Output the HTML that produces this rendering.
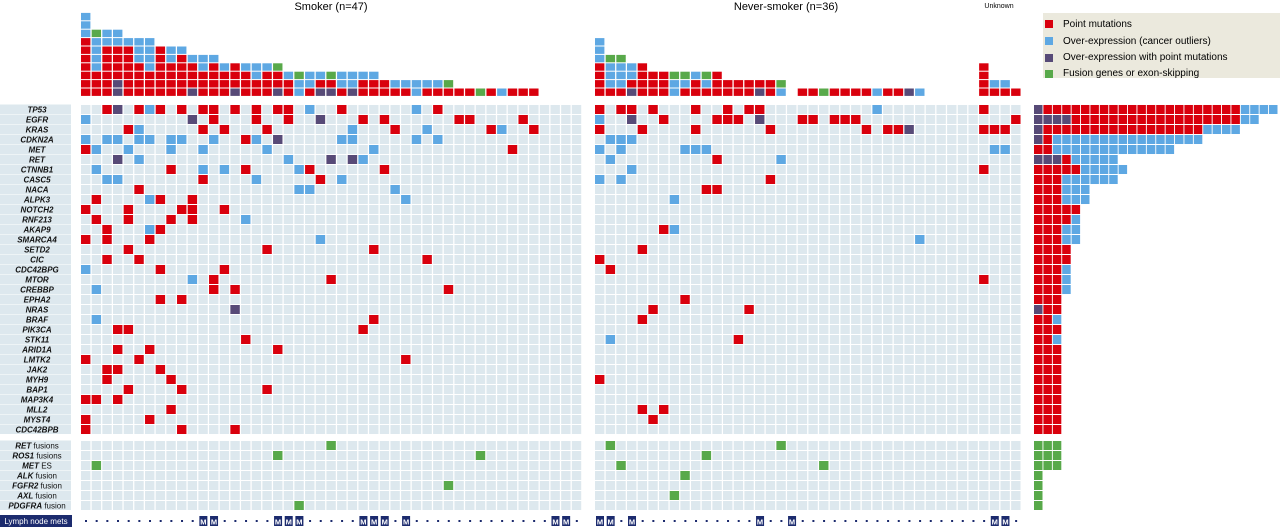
<!DOCTYPE html>
<html><head><meta charset="utf-8"><style>
html,body{margin:0;padding:0;background:#fff;width:1280px;height:528px;overflow:hidden}
svg{display:block}
text{font-family:"Liberation Sans",Arial,sans-serif}
</style></head><body>
<svg id="chart" width="1280" height="528" viewBox="0 0 1280 528" xmlns="http://www.w3.org/2000/svg">
<text x="331" y="10" font-size="11" text-anchor="middle">Smoker (n=47)</text>
<text x="786" y="10" font-size="11" text-anchor="middle">Never-smoker (n=36)</text>
<text x="999" y="8" font-size="7" text-anchor="middle">Unknown</text>
<g>
<rect x="1043" y="13" width="237" height="65" fill="#ebe9dd"/>
<rect x="1045" y="20" width="8" height="8" fill="#d9000d"/><text x="1063" y="27" font-size="10">Point mutations</text>
<rect x="1045" y="37" width="8" height="8" fill="#5ea8e3"/><text x="1063" y="44" font-size="10">Over-expression (cancer outliers)</text>
<rect x="1045" y="54" width="8" height="8" fill="#574a77"/><text x="1063" y="60" font-size="10">Over-expression with point mutations</text>
<rect x="1045" y="70" width="8" height="8" fill="#58a94a"/><text x="1063" y="76" font-size="10">Fusion genes or exon-skipping</text>
</g>
<g id="plot"></g>
</svg>
<script>
const genes = ["TP53","EGFR","KRAS","CDKN2A","MET","RET","CTNNB1","CASC5","NACA","ALPK3","NOTCH2","RNF213","AKAP9","SMARCA4","SETD2","CIC","CDC42BPG","MTOR","CREBBP","EPHA2","NRAS","BRAF","PIK3CA","STK11","ARID1A","LMTK2","JAK2","MYH9","BAP1","MAP3K4","MLL2","MYST4","CDC42BPB"];
const fusionGenes = ["RET","ROS1","MET","ALK","FGFR2","AXL","PDGFRA"];
const fusionSuffix = [" fusions"," fusions"," ES"," fusion"," fusion"," fusion"," fusion"];
const smokerAlt = [
"2r 3p 5r 6b 7r 9r 11r 12r 14r 16r 18r 19r 21b 24r 31b 33r",
"0b 10p 12r 16r 19r 22p 26r 28r 35r 36r 41r",
"4r 5b 11r 13r 17r 25b 29r 32b 38r 39b 42r",
"0b 2b 3b 5b 6b 8b 9b 12b 15r 16b 18p 24b 25b 31b 33b",
"0r 1b 4b 8b 11b 17b 27b 40r",
"3p 5b 19b 23p 25p 26b",
"1b 8r 11b 13b 15r 20b 21r 28r",
"2b 3b 11r 16b 22r 24b",
"5r 20b 21b 29b",
"1r 6b 7r 10r 30b",
"0r 4r 9r 10r 13r",
"1r 4r 8r 10r 15b",
"2r 6b 7r",
"0r 2r 6r 22b",
"4r 17r 27r",
"2r 5r 32r",
"0b 7r 13r",
"10b 12r 23r",
"1b 12r 14r 34r",
"7r 9r",
"14p",
"1b 27r",
"3r 4r 26r",
"15r",
"3r 6r 18r",
"0r 5r 30r",
"2r 3r 7r",
"2r 8r",
"4r 9r 17r",
"0r 1r 3r",
"8r",
"0r 6r",
"0r 9r 14r"];
const neverAlt = [
"0r 2r 3r 5r 9r 12r 14r 15r 26b 36r",
"0b 3p 6r 11r 12r 13r 15p 19r 20r 22r 23r 24r 39r",
"0r 4r 9r 16r 25r 27r 28r 29p 36r 37r 38r",
"1b 2b 3b",
"0b 2b 8b 9b 10b 37b 38b",
"1b 11r 17b",
"3b 36r",
"0b 2b 16r",
"10r 11r",
"7b","","","6r 7b","30b","4r","0r","1r","36r","","8r","5r 14r","4r","","1b 13r","","","","0r","","","4r 6r","5r",""];
const smokerFusion = ["23","18 37","1","","34","","20"];
const neverFusion = ["1 17","10","2 21","8","","7",""];
const smokerMets = [11,12,18,19,20,26,27,28,30,44,45];
const neverMets = [0,1,3,15,18,37,38];

const NS=47, NN=40, PX=10.67, CW=9.4;
const COL={r:"#d9000d",b:"#5ea8e3",p:"#574a77",g:"#58a94a",e:"#dde8ee"};
const svg=document.getElementById('plot');
function xS(i){return 81+i*PX;}
function xN(j){return 595+j*PX;}
function yG(r){return 105+r*10;}
function yF(k){return 441+k*10;}
function rect(x,y,w,h,f){const e=document.createElementNS("http://www.w3.org/2000/svg","rect");e.setAttribute('x',x);e.setAttribute('y',y);e.setAttribute('width',w);e.setAttribute('height',h);e.setAttribute('fill',f);svg.appendChild(e);return e;}
function txt(x,y,s,size,anchor,fill,weight,style){const e=document.createElementNS("http://www.w3.org/2000/svg","text");e.setAttribute('x',x);e.setAttribute('y',y);e.setAttribute('font-size',size);e.setAttribute('text-anchor',anchor);e.setAttribute('fill',fill||'#000');if(weight)e.setAttribute('font-weight',weight);if(style)e.setAttribute('font-style',style);e.textContent=s;svg.appendChild(e);return e;}
function parse(s){return s.trim()?s.trim().split(/\s+/).map(t=>({c:parseInt(t),t:t.replace(/[0-9]/g,'')||'g'})):[];}

// per-sample & per-gene counts
const sCounts=[...Array(NS)].map(()=>({r:0,b:0,p:0,g:0}));
const nCounts=[...Array(NN)].map(()=>({r:0,b:0,p:0,g:0}));
const geneCounts=genes.map(()=>({r:0,b:0,p:0,g:0}));
const fusCounts=fusionGenes.map(()=>0);

// labels + grid
genes.forEach((g,r)=>{
  const bg=rect(0,yG(r)-0.5,71,9.5,"#dde8ee");
  
  
  const t=txt(37,yG(r)+7.5,g,8,'middle','#111','bold','italic');
  
  
  for(let i=0;i<NS;i++)rect(xS(i),yG(r),CW,9,COL.e);
  for(let j=0;j<NN;j++)rect(xN(j),yG(r),CW,9,COL.e);
  parse(smokerAlt[r]).forEach(a=>{const e=rect(xS(a.c),yG(r),CW,9,COL[a.t]);
    
    
    sCounts[a.c][a.t]++;geneCounts[r][a.t]++;});
  parse(neverAlt[r]).forEach(a=>{const e=rect(xN(a.c),yG(r),CW,9,COL[a.t]);
    
    
    nCounts[a.c][a.t]++;geneCounts[r][a.t]++;});
});
fusionGenes.forEach((g,k)=>{
  const bg=rect(0,yF(k)-0.5,71,9.5,"#dde8ee");
  
  
  const t=txt(37,yF(k)+7.5,'',8,'middle','#111','bold');
  
  
  const a=document.createElementNS("http://www.w3.org/2000/svg","tspan");a.setAttribute('font-style','italic');a.textContent=g;t.appendChild(a);
  const b=document.createElementNS("http://www.w3.org/2000/svg","tspan");b.setAttribute('font-weight','normal');b.textContent=fusionSuffix[k];t.appendChild(b);
  for(let i=0;i<NS;i++)rect(xS(i),yF(k),CW,9,COL.e);
  for(let j=0;j<NN;j++)rect(xN(j),yF(k),CW,9,COL.e);
  parse(smokerFusion[k]).forEach(f=>{const e=rect(xS(f.c),yF(k),CW,9,COL.g);
    
    
    sCounts[f.c].g++;fusCounts[k]++;});
  parse(neverFusion[k]).forEach(f=>{const e=rect(xN(f.c),yF(k),CW,9,COL.g);
    
    
    nCounts[f.c].g++;fusCounts[k]++;});
});

// top stacked bars
function stack(counts,xf,grp){
  counts.forEach((c,i)=>{let lvl=0;
    ['p','r','b','g'].forEach(t=>{for(let n=0;n<c[t];n++){
      const e=rect(xf(i),88.5-lvl*8.4,CW,7.4,COL[t]);
      
      
      lvl++;}});});
}
stack(sCounts,xS,'smoker');stack(nCounts,xN,'never');

// right summary panel
const RP=9.4;
geneCounts.forEach((c,r)=>{let k=0;
  ['p','r','b','g'].forEach(t=>{for(let n=0;n<c[t];n++){
    const e=rect(1034+k*RP,yG(r),8.5,9,COL[t]);
    
    
    k++;}});});
fusCounts.forEach((n,k)=>{for(let m=0;m<n;m++){
  const e=rect(1034+m*RP,yF(k),8.5,9,COL.g);
  
  }});

// lymph node mets row
const lb=rect(0,515,72,12,"#1c2b6e");


const lt=txt(36,524,'Lymph node mets',8,'middle','#fff');


function mets(n,xf,list,grp){for(let i=0;i<n;i++){
  if(list.includes(i)){
    const b=rect(xf(i)+1,516,8,10,"#1c2b6e");
    
    
    const t=txt(xf(i)+5,524.5,'M',7.5,'middle','#fff','bold');
    
    
  } else {
    const d=rect(xf(i)+4,520,2,2,"#1c2b6e");
    
    
  }}}
mets(NS,xS,smokerMets,'smoker');mets(NN,xN,neverMets,'never');
</script>
</body></html>
